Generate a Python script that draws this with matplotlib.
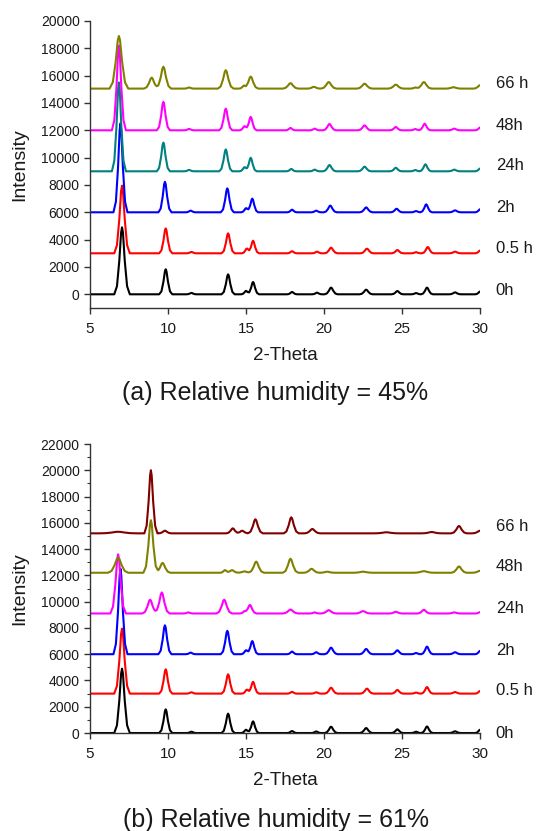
import numpy as np
import matplotlib
matplotlib.use("Agg")
import matplotlib.pyplot as plt
from matplotlib.ticker import MultipleLocator

plt.rcParams['font.family'] = ['Liberation Sans', 'DejaVu Sans']

# 衍射峰表：(2θ, 峰高, 峰脚半宽)，每条曲线叠加在各自的基线偏移上
# (a) 相对湿度 45%
RH45_0H = [(7.05, 4900, 0.5), (9.85, 1830, 0.42), (11.5, 100, 0.32), (13.85, 1460, 0.42),
           (15.0, 250, 0.32), (15.45, 900, 0.38), (17.95, 170, 0.32), (19.55, 120, 0.32),
           (20.45, 490, 0.42), (22.7, 340, 0.42), (24.7, 240, 0.38), (25.9, 90, 0.32),
           (26.6, 490, 0.38), (28.4, 140, 0.38), (30.0, 200, 0.32)]
RH45_05H = [(7.05, 4950, 0.5), (9.85, 1820, 0.42), (11.5, 100, 0.32), (13.85, 1460, 0.42),
            (15.05, 350, 0.32), (15.45, 920, 0.38), (17.95, 150, 0.32), (19.55, 120, 0.32),
            (20.45, 410, 0.42), (22.75, 340, 0.42), (24.7, 240, 0.38), (25.9, 80, 0.32),
            (26.65, 460, 0.38), (28.4, 120, 0.38), (30.0, 200, 0.32)]
RH45_2H = [(6.95, 6500, 0.45), (9.8, 2230, 0.42), (11.45, 120, 0.32), (13.8, 1750, 0.42),
           (15.0, 300, 0.32), (15.4, 1000, 0.38), (17.95, 190, 0.32), (19.5, 120, 0.32),
           (20.4, 490, 0.42), (22.7, 360, 0.42), (24.65, 260, 0.38), (25.9, 90, 0.32),
           (26.55, 580, 0.38), (28.4, 140, 0.38), (30.0, 220, 0.32)]
RH45_24H = [(6.85, 6500, 0.45), (9.7, 2100, 0.42), (11.35, 100, 0.32), (13.7, 1600, 0.42),
            (14.9, 300, 0.32), (15.3, 990, 0.38), (17.9, 170, 0.32), (19.4, 120, 0.32),
            (20.35, 460, 0.42), (22.6, 340, 0.42), (24.6, 260, 0.38), (25.85, 90, 0.32),
            (26.5, 510, 0.38), (28.35, 120, 0.38), (30.0, 200, 0.32)]
RH45_48H = [(6.85, 6200, 0.45), (9.7, 2080, 0.42), (11.35, 100, 0.32), (13.7, 1590, 0.42),
            (14.9, 300, 0.32), (15.3, 980, 0.38), (17.85, 170, 0.32), (19.4, 120, 0.32),
            (20.35, 460, 0.42), (22.6, 360, 0.42), (24.6, 240, 0.38), (25.85, 90, 0.32),
            (26.45, 480, 0.38), (28.35, 120, 0.38), (30.0, 200, 0.32)]
RH45_66H = [(6.85, 3850, 0.6), (8.95, 800, 0.5), (9.7, 1600, 0.5), (11.35, 80, 0.32),
            (13.7, 1350, 0.5), (14.85, 200, 0.3), (15.3, 880, 0.48), (17.85, 400, 0.5),
            (19.35, 130, 0.42), (20.3, 480, 0.5), (22.6, 360, 0.5), (24.6, 290, 0.5),
            (25.85, 80, 0.32), (26.4, 480, 0.5), (28.3, 100, 0.5), (30.0, 250, 0.42)]

# (b) 相对湿度 61%
RH61_0H = [(7.05, 4900, 0.5), (9.85, 1800, 0.42), (11.5, 100, 0.32), (13.85, 1475, 0.42),
           (15.0, 250, 0.32), (15.45, 890, 0.38), (17.95, 150, 0.32), (19.5, 120, 0.32),
           (20.45, 480, 0.42), (22.7, 380, 0.42), (24.7, 280, 0.38), (25.9, 100, 0.32),
           (26.6, 500, 0.38), (28.4, 130, 0.38), (30.0, 250, 0.32)]
RH61_05H = [(7.05, 4950, 0.5), (9.85, 1850, 0.42), (11.5, 100, 0.32), (13.85, 1470, 0.42),
            (15.05, 300, 0.32), (15.45, 900, 0.38), (17.95, 130, 0.32), (19.5, 100, 0.32),
            (20.45, 450, 0.42), (22.75, 380, 0.42), (24.7, 280, 0.38), (25.9, 80, 0.32),
            (26.6, 500, 0.38), (28.4, 120, 0.38), (30.0, 200, 0.32)]
RH61_2H = [(6.95, 6500, 0.45), (9.8, 2200, 0.42), (11.45, 120, 0.32), (13.8, 1780, 0.42),
           (15.0, 300, 0.32), (15.4, 1000, 0.38), (17.95, 200, 0.32), (19.5, 150, 0.32),
           (20.45, 500, 0.42), (22.7, 400, 0.42), (24.7, 300, 0.38), (25.9, 90, 0.32),
           (26.6, 580, 0.38), (28.4, 150, 0.38), (30.0, 250, 0.32)]
RH61_24H = [(6.8, 4500, 0.5), (8.85, 1050, 0.5), (9.6, 1600, 0.5), (11.3, 80, 0.32),
            (13.6, 1050, 0.5), (14.9, 150, 0.32), (15.25, 650, 0.42), (17.85, 300, 0.5),
            (19.4, 80, 0.32), (20.3, 250, 0.5), (22.5, 180, 0.5), (24.6, 130, 0.42),
            (26.4, 280, 0.42), (28.35, 80, 0.42), (30.0, 100, 0.32)]
RH61_48H = [(6.8, 1150, 0.65), (8.9, 4000, 0.48), (9.65, 750, 0.5), (13.65, 200, 0.32),
            (14.1, 200, 0.42), (14.9, 100, 0.5), (15.65, 850, 0.5), (17.85, 1070, 0.5),
            (19.2, 300, 0.5), (20.2, 80, 0.5), (22.5, 80, 0.65), (26.4, 120, 0.65),
            (28.65, 480, 0.5), (30.0, 150, 0.5)]
RH61_66H = [(6.8, 120, 1.2), (8.9, 4800, 0.42), (9.8, 200, 0.42), (14.15, 380, 0.42),
            (14.75, 200, 0.42), (15.6, 1070, 0.48), (17.9, 1220, 0.48), (19.25, 330, 0.5),
            (24.0, 80, 0.8), (26.9, 100, 0.65), (28.65, 560, 0.5), (30.0, 200, 0.5)]

LABELS = ['0h', '0.5 h', '2h', '24h', '48h', '66 h']
RH45_OFFSETS = [0, 3000, 6000, 9000, 12000, 15050]
RH61_OFFSETS = [0, 3000, 6000, 9100, 12200, 15200]
RH45_COLORS = ['black', '#ff0000', '#0000ff', '#008080', '#ff00ff', '#808000']
RH61_COLORS = ['black', '#ff0000', '#0000ff', '#ff00ff', '#808000', '#800000']

TEXT = '#1a1a1a'

# 单个峰的轮廓（以峰脚半宽为单位），圆顶宽脚
SHAPE_X = [-1.0, -0.65, -0.35, -0.12, 0.0, 0.12, 0.35, 0.65, 1.0]
SHAPE_Y = [0.0, 0.12, 0.5, 0.92, 1.0, 0.92, 0.5, 0.12, 0.0]


def trace(peaks, base):
    """由峰表拼出折线，重叠的峰相加"""
    xs = [5.0, 30.0]
    for p, h, w in peaks:
        xs += [p + s * w for s in SHAPE_X]
    xs = np.array(sorted(set(xs)))
    ys = np.full(xs.shape, float(base))
    for p, h, w in peaks:
        px = [p + s * w for s in SHAPE_X]
        py = [h * s for s in SHAPE_Y]
        ys += np.interp(xs, px, py, left=0, right=0)
    return xs, ys


def draw_panel(ax, traces, offsets, colors, label_y, ymin, ymax, minor):
    for peaks, base, c in zip(traces, offsets, colors):
        x, y = trace(peaks, base)
        ax.plot(x, y, color=c, lw=1.5, solid_joinstyle='round')
    for lab, ly in zip(LABELS, label_y):
        ax.text(31.0, ly, lab, fontsize=12, color=TEXT, va='center', ha='left', clip_on=False)

    ax.set_xlim(5, 30)
    ax.set_ylim(ymin, ymax)
    ax.xaxis.set_major_locator(MultipleLocator(5))
    ax.yaxis.set_major_locator(MultipleLocator(2000))
    if minor:
        ax.yaxis.set_minor_locator(MultipleLocator(1000))
    ax.spines['top'].set_visible(False)
    ax.spines['right'].set_visible(False)
    for s in ('left', 'bottom'):
        ax.spines[s].set_color('#333333')
        ax.spines[s].set_linewidth(1.0)
    ax.tick_params(which='major', direction='out', length=4, width=1.0,
                   color='#333333', labelsize=10, labelcolor=TEXT)
    ax.tick_params(axis='x', which='major', labelsize=11, pad=6)
    ax.tick_params(which='minor', direction='out', length=2.5, width=0.8, color='#333333')
    ax.set_xlabel('2-Theta', fontsize=13.5, color=TEXT, labelpad=8)
    ax.set_ylabel('Intensity', fontsize=14, color=TEXT, labelpad=9)


fig = plt.figure(figsize=(5.36, 8.31), dpi=100)

ax1 = fig.add_axes([0.168, 0.6294, 0.7276, 0.3454])
draw_panel(ax1, [RH45_0H, RH45_05H, RH45_2H, RH45_24H, RH45_48H, RH45_66H],
           RH45_OFFSETS, RH45_COLORS,
           [290, 3370, 6370, 9400, 12380, 15430], -1000, 20000, False)

ax2 = fig.add_axes([0.168, 0.1179, 0.7276, 0.3478])
draw_panel(ax2, [RH61_0H, RH61_05H, RH61_2H, RH61_24H, RH61_48H, RH61_66H],
           RH61_OFFSETS, RH61_COLORS,
           [0, 3270, 6300, 9500, 12660, 15750], 0, 22000, True)

fig.text(0.514, 0.527, '(a) Relative humidity = 45%', fontsize=18, color=TEXT,
         ha='center', va='center')
fig.text(0.514, 0.0132, '(b) Relative humidity = 61%', fontsize=18, color=TEXT,
         ha='center', va='center')

fig.savefig('out.png', dpi=100)
